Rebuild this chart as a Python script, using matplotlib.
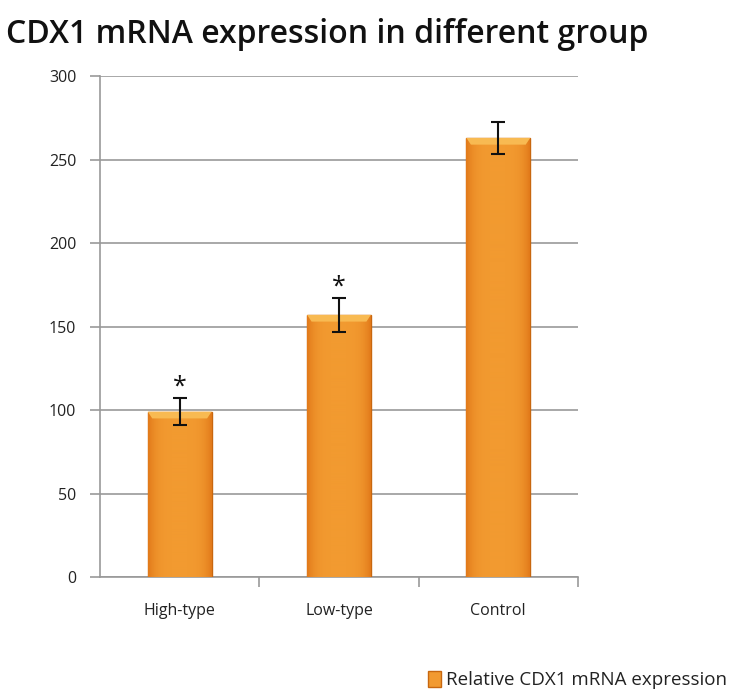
import numpy as np
import matplotlib
matplotlib.use('Agg')
import matplotlib.pyplot as plt
from matplotlib.patches import Patch, Polygon
from matplotlib.colors import LinearSegmentedColormap

# data
groups = ['High-type', 'Low-type', 'Control']
expression = [99, 157, 263]
errors = [8, 10, 9.5]
significant = [True, True, False]
y_ticks = [0, 50, 100, 150, 200, 250, 300]

plt.rcParams['font.family'] = ['Open Sans', 'DejaVu Sans']

fig = plt.figure(figsize=(7.37, 6.99), dpi=100)
ax = fig.add_axes([0.1357, 0.1745, 0.6485, 0.7165])

x = np.arange(len(groups))
bars = ax.bar(x, expression, width=0.4, color='#F29A30', edgecolor='#C8670F',
              linewidth=1.0, zorder=3)

# mild horizontal shading on each bar, darker toward the edges
grad = np.linspace(-1, 1, 64)
shade = 1 - np.abs(grad) ** 4
cmap = LinearSegmentedColormap.from_list('bar', ['#E27A1A', '#F29A30'])
for b in bars:
    x0, w, h = b.get_x(), b.get_width(), b.get_height()
    im = ax.imshow(shade[np.newaxis, :], extent=[x0, x0 + w, 0, h], aspect='auto',
                   cmap=cmap, vmin=0, vmax=1.0, zorder=3.5)
    im.set_clip_path(b)
    # lighter bevel at the top
    bevel = Polygon([[x0, h], [x0 + w, h], [x0 + w * 0.93, h - 4],
                     [x0 + w * 0.07, h - 4]], closed=True,
                    facecolor='#F8BA52', edgecolor='none', zorder=3.6)
    ax.add_patch(bevel)

ax.errorbar(x, expression, yerr=errors, fmt='none', ecolor='#111111',
            elinewidth=1.5, capsize=5, capthick=1.5, zorder=5)

for xi, v, e, s in zip(x, expression, errors, significant):
    if s:
        ax.text(xi, v + e - 1, '*', ha='center', va='bottom', fontsize=18,
                color='#111111')

ax.set_xlim(-0.5, len(groups) - 0.5)
ax.set_ylim(0, 300)
ax.set_yticks(y_ticks)
ax.set_xticks(x)
ax.set_xticklabels(groups)
ax.set_xticks([0.5, 1.5, 2.5], minor=True)
ax.tick_params(axis='x', which='major', length=0, pad=19, labelsize=11.5,
               labelcolor='#222222')
ax.tick_params(axis='x', which='minor', length=7, color='#999999', width=1.2)
ax.tick_params(axis='y', length=7, color='#999999', width=1.2, labelsize=11.5,
               labelcolor='#222222', pad=10)
ax.grid(axis='y', color='#9a9a9a', linewidth=1.2, zorder=0)
for side in ['top', 'right']:
    ax.spines[side].set_visible(False)
for side in ['left', 'bottom']:
    ax.spines[side].set_color('#999999')
    ax.spines[side].set_linewidth(1.2)

fig.text(0.008, 0.951, 'CDX1 mRNA expression in different group', fontsize=23,
         fontweight='semibold', color='#111111', ha='left', va='center')

handle = Patch(facecolor='#F29A30', edgecolor='#C8670F')
fig.legend([handle], ['Relative CDX1 mRNA expression'], loc='center right',
           bbox_to_anchor=(1.01, 0.027), frameon=False, fontsize=13.5,
           handlelength=0.7, handleheight=0.9, handletextpad=0.3,
           labelcolor='#222222')

fig.savefig('out.png', dpi=100)
